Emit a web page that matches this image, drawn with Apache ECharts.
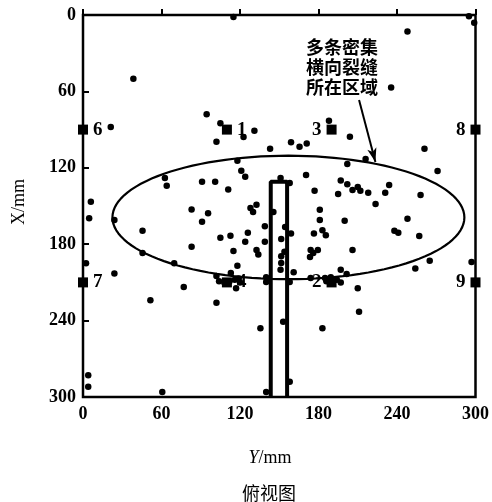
<!DOCTYPE html>
<html><head><meta charset="utf-8">
<script src="https://cdn.jsdelivr.net/npm/echarts@6/dist/echarts.min.js"></script>
<style>html,body{margin:0;padding:0;background:#fff}#c{width:492px;height:502px}</style>
</head><body><div id="c"></div>
<script>
// Axis ticks (mm)
const tickValues = [0, 60, 120, 180, 240, 300];
// Crack (acoustic emission) points: [Y mm, X mm]
const crackPoints = [
[115,1.6],[295,1],[299,6],[248,13],[38.5,50],[235.5,57],[94.5,78],[105,85],[102,99.5],[122.7,95.8],[131,91],[21.2,88],[159,100],[165.5,103.5],[171,101],[143,105],[188,83],[204,95.6],[261,105],
[216,113],[202,117],[271,122.5],[118,114.5],[121,122.4],[124,127],[62.6,128],[64,134],[91,131],[101,131],[111,137],[151,128],[158,132],[170.5,125.7],[177,138],[197,130],[202,133],[210,135],[206,137.5],[212,138],[218,139.6],[231,139.6],[234,133.5],[195,140.6],[258,141.4],
[83,152.7],[95.6,155.7],[91,162.4],[6,146.6],[4.7,159.6],[24,161],[45.5,169.5],[128,151.6],[132.6,149],[130,154.7],[145.5,154.7],[181,153],[181,161],[200,161.6],[223.6,148.5],[248,160],[139,166],[154.5,166.5],[159,171.5],[176.5,171.5],[183,169],[185.6,173],[238,169.5],[241,171],[257,173.6],[105,175],[112.7,173.4],[126,171],[124,178],[139,178],[151.5,176],[83,182],[115,185.4],[132.6,184.6],[134,188],[154,186],[174,184.6],[176,187],[179.5,184.6],[173.5,190],[206,184.6],[151.5,189.4],[45.5,187],
[2.3,195],[69.7,195],[118,197],[113,202.6],[102,205],[24,203],[151,200],[151.5,194.8],[161,202],[140,206],[197,200],[201.5,203.5],[189.4,206],[185,206.6],[174,206.6],[254,199],[265,193],[297,194],
[104,209],[108,210],[112,209],[116,208],[120,210],[119,207],[77,213.7],[117,214.5],[140,209.7],[158,209.7],[186,209],[194,208],[197,210],[210,214.5],[51.5,224],[102,226],[211,233],[135.6,246],[153,241],[183,246],[158,288],[140,296],[4,283],[4,292],[60.6,296]
];
// Sensors
const sensorNames = ['1','2','3','4','6','7','8','9'];
const sensorY = [110, 190, 190, 110, 0, 0, 300, 300];
const sensorX = [90, 210, 90, 210, 90, 210, 90, 210];
const sensorLabelSide = ['right','left','left','right','right','right','left','left'];
// Ellipse region of dense transverse cracks: center [Y, X], semi-axes [Y, X]
const ellipseCenter = [157, 159];
const ellipseRadii = [134.5, 48.5];
// Rectangle (notch/slot): Y range and X range
const rectY = [143.5, 156];
const rectX = [131, 300];
// Arrow from annotation to ellipse [Y, X]
const arrowStart = [211, 66.8];
const arrowEnd = [223.5, 115.5];

const ellipsePts = [];
for (let i = 0; i <= 360; i += 3) {
  const t = i * Math.PI / 180;
  ellipsePts.push([ellipseCenter[0] + ellipseRadii[0] * Math.cos(t), ellipseCenter[1] + ellipseRadii[1] * Math.sin(t)]);
}
const rectPts = [[rectY[0], rectX[1]], [rectY[0], rectX[0]], [rectY[1], rectX[0]], [rectY[1], rectX[1]]];
const serif = '"Liberation Serif","DejaVu Serif",serif';
const sensorData = sensorNames.map((n, i) => ({
  value: [sensorY[i], sensorX[i]], name: n,
  label: { show: true, formatter: n, position: sensorLabelSide[i], distance: 5,
    color: '#000', opacity: 1, fontFamily: serif, fontWeight: 'bold', fontSize: 19 }
}));

const chart = echarts.init(document.getElementById('c'));
chart.setOption({
  animation: false,
  backgroundColor: '#fff',
  grid: { left: 83, top: 15, width: 396, height: 382, show: true, borderColor: '#000', borderWidth: 2.5, backgroundColor: 'transparent' },
  xAxis: {
    type: 'value', min: 0, max: 300, interval: 60,
    axisLine: { show: false }, splitLine: { show: false },
    axisTick: { show: true, inside: true, length: 6, lineStyle: { color: '#000', width: 2 } },
    axisLabel: { color: '#000', fontFamily: serif, fontWeight: 'bold', fontSize: 18, margin: 8 }
  },
  yAxis: {
    type: 'value', min: 0, max: 300, interval: 60, inverse: true,
    axisLine: { show: false }, splitLine: { show: false },
    axisTick: { show: true, inside: true, length: 6, lineStyle: { color: '#000', width: 2 } },
    axisLabel: { color: '#000', fontFamily: serif, fontWeight: 'bold', fontSize: 18, margin: 7 }
  },
  series: [
    { type: 'line', data: ellipsePts, showSymbol: false, symbol: 'none', smooth: false,
      lineStyle: { color: '#000', width: 2.2 }, silent: true, z: 2 },
    { type: 'line', data: rectPts, showSymbol: false, symbol: 'none',
      lineStyle: { color: '#000', width: 4 }, silent: true, z: 3 },
    { type: 'scatter', data: crackPoints, symbol: 'circle', symbolSize: 6.5, clip: false,
      itemStyle: { color: '#000', opacity: 1 }, z: 4,
      markLine: {
        silent: true, symbol: ['none', 'arrow'], symbolSize: [7, 14],
        lineStyle: { color: '#000', width: 2, type: 'solid' }, label: { show: false },
        data: [[{ coord: arrowStart }, { coord: arrowEnd }]]
      }
    },
    { type: 'scatter', data: sensorData, symbol: 'rect', symbolSize: 10, clip: false,
      itemStyle: { color: '#000', opacity: 1 }, z: 5,
      label: { color: '#000', fontFamily: serif, fontWeight: 'bold', fontSize: 19 } }
  ],
  graphic: [
    { type: 'text', left: 306, top: 37, z: 10,
      style: { text: '多条密集\n横向裂缝\n所在区域', font: 'bold 18px "Noto Sans CJK SC"', lineHeight: 20, fill: '#000', textAlign: 'left' } },
    { type: 'text', x: 19, y: 202, rotation: Math.PI / 2, z: 10,
      style: { text: 'X/mm', font: '18px "Liberation Serif"', fill: '#000', textAlign: 'center', textVerticalAlign: 'middle' } },
    { type: 'text', x: 270, y: 458, z: 10,
      style: { rich: { i: { fontStyle: 'italic', fontFamily: 'Liberation Serif', fontSize: 18 }, n: { fontFamily: 'Liberation Serif', fontSize: 18 } },
        text: '{i|Y}{n|/mm}', fill: '#000', align: 'center', verticalAlign: 'middle' } },
    { type: 'text', x: 269, y: 493, z: 10,
      style: { text: '俯视图', font: '18px "Noto Sans CJK SC"', fill: '#000', textAlign: 'center', textVerticalAlign: 'middle' } }
  ]
});
</script></body></html>
